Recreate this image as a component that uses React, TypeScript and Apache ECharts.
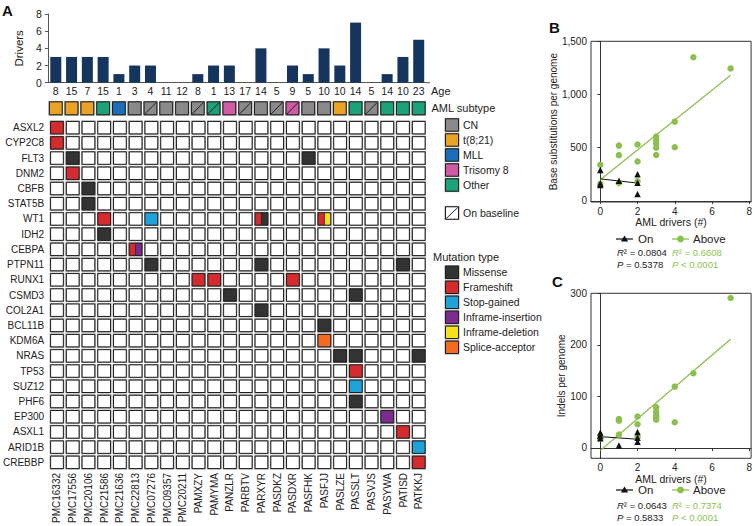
import React, { useEffect, useRef } from "react";
import * as echarts from "echarts";

const FONT = "'Liberation Sans', Arial, Helvetica, sans-serif";

// ---------- Panel A data ----------
const patients = ["PMC16332", "PMC17556", "PMC20106", "PMC21586", "PMC21636", "PMC22813", "PMC07276", "PMC09357", "PMC20211", "PAMXZY", "PAMYMA", "PANZLR", "PARBTV", "PARXYR", "PASDKZ", "PASDXR", "PASFHK", "PASFJJ", "PASLZE", "PASSLT", "PASVJS", "PASYWA", "PATISD", "PATKKJ"];
const ages = [8, 15, 7, 15, 1, 3, 4, 11, 12, 8, 1, 13, 17, 14, 5, 9, 5, 10, 10, 14, 5, 14, 10, 23];
const drivers = [3, 3, 3, 3, 1, 2, 2, 0, 0, 1, 2, 2, 0, 4, 0, 2, 1, 4, 2, 7, 0, 1, 3, 5];
const subtypes = ["t(8;21)", "t(8;21)", "t(8;21)", "Other", "MLL", "CN", "CN", "CN", "CN", "CN", "Other", "Trisomy 8", "CN", "CN", "CN", "Trisomy 8", "CN", "CN", "t(8;21)", "Other", "CN", "Other", "Other", "Other"];
const onBaseline = [0, 0, 0, 0, 0, 0, 1, 0, 0, 1, 1, 0, 1, 0, 1, 1, 0, 0, 0, 0, 1, 0, 0, 0];
const genes = ["ASXL2", "CYP2C8", "FLT3", "DNM2", "CBFB", "STAT5B", "WT1", "IDH2", "CEBPA", "PTPN11", "RUNX1", "CSMD3", "COL2A1", "BCL11B", "KDM6A", "NRAS", "TP53", "SUZ12", "PHF6", "EP300", "ASXL1", "ARID1B", "CREBBP"];
const subtypeNames = ["CN", "t(8;21)", "MLL", "Trisomy 8", "Other"];
const subtypeColors = ["#8a8a8a", "#e9a428", "#1c6fb7", "#cf5aa5", "#1ba27a"];
const mutationTypes = ["Missense", "Frameshift", "Stop-gained", "Inframe-insertion", "Inframe-deletion", "Splice-acceptor"];
const mutationColors = ["#333333", "#d52a2e", "#1fa2d9", "#7c2c8f", "#f3e11b", "#f36c21"];
// [patient, gene, mutation type(s)]
const mutations: [string, string, string[]][] = [
  ["PMC16332", "ASXL2", ["Frameshift"]],
  ["PMC16332", "CYP2C8", ["Frameshift"]],
  ["PMC17556", "FLT3", ["Missense"]],
  ["PASFHK", "FLT3", ["Missense"]],
  ["PMC17556", "DNM2", ["Frameshift"]],
  ["PMC20106", "CBFB", ["Missense"]],
  ["PMC20106", "STAT5B", ["Missense"]],
  ["PMC21586", "WT1", ["Frameshift"]],
  ["PMC07276", "WT1", ["Stop-gained"]],
  ["PARXYR", "WT1", ["Frameshift", "Missense"]],
  ["PASFJJ", "WT1", ["Frameshift", "Inframe-deletion"]],
  ["PMC21586", "IDH2", ["Missense"]],
  ["PMC22813", "CEBPA", ["Frameshift", "Inframe-insertion"]],
  ["PMC07276", "PTPN11", ["Missense"]],
  ["PARXYR", "PTPN11", ["Missense"]],
  ["PATISD", "PTPN11", ["Missense"]],
  ["PAMXZY", "RUNX1", ["Frameshift"]],
  ["PAMYMA", "RUNX1", ["Frameshift"]],
  ["PASDXR", "RUNX1", ["Frameshift"]],
  ["PANZLR", "CSMD3", ["Missense"]],
  ["PASSLT", "CSMD3", ["Missense"]],
  ["PARXYR", "COL2A1", ["Missense"]],
  ["PASFJJ", "BCL11B", ["Missense"]],
  ["PASFJJ", "KDM6A", ["Splice-acceptor"]],
  ["PASLZE", "NRAS", ["Missense"]],
  ["PASSLT", "NRAS", ["Missense"]],
  ["PATKKJ", "NRAS", ["Missense"]],
  ["PASSLT", "TP53", ["Frameshift"]],
  ["PASSLT", "SUZ12", ["Stop-gained"]],
  ["PASSLT", "PHF6", ["Missense"]],
  ["PASYWA", "EP300", ["Inframe-insertion"]],
  ["PATISD", "ASXL1", ["Frameshift"]],
  ["PATKKJ", "ARID1B", ["Stop-gained"]],
  ["PATKKJ", "CREBBP", ["Frameshift"]],
];

// ---------- Panel B / C data ----------
const driverTicks = [0, 2, 4, 6, 8];
const subsTicks = [0, 500, 1000, 1500];
const indelTicks = [0, 100, 200, 300];
const onB = [[0, 290], [0, 165], [0, 150], [1, 190], [2, 250], [2, 170], [2, 65]];
const aboveB = [[0, 340], [0, 160], [1, 520], [1, 430], [1, 170], [2, 530], [2, 370], [2, 185], [3, 605], [3, 570], [3, 540], [3, 500], [3, 432], [4, 745], [4, 505], [5, 1350], [7, 1245]];
const onFitB = [[0, 207], [2, 168]];
const aboveFitB = [[0, 198], [7, 1182]];
const onC = [[0, 30], [0, 24], [0, 19], [1, 5], [2, 31], [2, 20], [2, 12]];
const aboveC = [[0, 22], [0, 18], [1, 56], [1, 53], [1, 26], [2, 61], [2, 46], [2, 21], [3, 79], [3, 70], [3, 63], [3, 58], [3, 55], [4, 119], [4, 50], [5, 145], [7, 291]];
const onFitC = [[0, 22], [2, 17]];
const aboveFitC = [[0, -5], [7, 211]];
// [On, Above] : [R², P]
const statsB = [["0.0804", "= 0.5378"], ["0.6608", "< 0.0001"]];
const statsC = [["0.0643", "= 0.5833"], ["0.7374", "< 0.0001"]];

const GREEN = "#8dbf4e";
const NAVY = "#16355e";
const DARK = "#1f1f1f";

function drawCell(cx: number, cy: number, w: number, h: number, fills: string[], diagonal: boolean) {
  const x0 = cx - w / 2;
  const y0 = cy - h / 2;
  const children: any[] = [
    { type: "rect", shape: { x: x0 - 0.9, y: y0 - 0.9, width: w + 1.8, height: h + 1.8 }, style: { fill: "#8e8e8e" } },
  ];
  if (fills.length <= 1) {
    children.push({ type: "rect", shape: { x: x0, y: y0, width: w, height: h }, style: { fill: fills[0] || "#fff", stroke: DARK, lineWidth: 1 } });
  } else {
    children.push({ type: "rect", shape: { x: x0, y: y0, width: w / 2, height: h }, style: { fill: fills[0] } });
    children.push({ type: "rect", shape: { x: x0 + w / 2, y: y0, width: w / 2, height: h }, style: { fill: fills[1] } });
    children.push({ type: "line", shape: { x1: x0 + w / 2, y1: y0, x2: x0 + w / 2, y2: y0 + h }, style: { stroke: DARK, lineWidth: 0.8 } });
    children.push({ type: "rect", shape: { x: x0, y: y0, width: w, height: h }, style: { fill: "none", stroke: DARK, lineWidth: 1 } });
  }
  if (diagonal) {
    children.push({ type: "line", shape: { x1: x0 + 0.8, y1: y0 + h - 0.8, x2: x0 + w - 0.8, y2: y0 + 0.8 }, style: { stroke: DARK, lineWidth: 1 } });
  }
  return { type: "group", children };
}

function txt(t: string, x: number, y: number, opts: any = {}) {
  const align = opts.align || "left";
  return {
    type: "text",
    x,
    y,
    style: {
      text: t,
      fontFamily: FONT,
      fontSize: 10.5,
      fill: "#222",
      align,
      textAlign: align,
      verticalAlign: "middle",
      textVerticalAlign: "middle",
      ...opts,
    },
  };
}

function statText(label: string, value: string, x: number, y: number, color: string) {
  return {
    type: "text",
    x,
    y,
    style: {
      text: "{i|" + label + "}" + (label === "R" ? "² = " : " ") + value,
      fontFamily: FONT,
      fontSize: 9.5,
      fill: color,
      align: "left",
      textAlign: "left",
      verticalAlign: "middle",
      textVerticalAlign: "middle",
      rich: { i: { fontStyle: "italic", fontFamily: FONT, fontSize: 9.5, fill: color, color } },
    },
  };
}

function scatterLegend(y: number, statsY1: number, statsY2: number, stats: string[][]) {
  return [
    { type: "line", shape: { x1: 616, y1: y, x2: 633, y2: y }, style: { stroke: "#111", lineWidth: 1.2 } },
    { type: "polygon", shape: { points: [[624.5, y - 3.6], [620.8, y + 2.6], [628.2, y + 2.6]] }, style: { fill: "#111" } },
    txt("On", 638, y, { fontSize: 11.5 }),
    { type: "line", shape: { x1: 672, y1: y, x2: 689, y2: y }, style: { stroke: GREEN, lineWidth: 1.3 } },
    { type: "circle", shape: { cx: 680.5, cy: y, r: 3.4 }, style: { fill: GREEN } },
    txt("Above", 693, y, { fontSize: 11.5 }),
    statText("R", stats[0][0], 617, statsY1, "#222"),
    statText("P", stats[0][1], 617, statsY2, "#222"),
    statText("R", stats[1][0], 672, statsY1, GREEN),
    statText("P", stats[1][1], 672, statsY2, GREEN),
  ];
}

function buildOption() {
  const cellData: number[][] = [];
  genes.forEach((g, gi) => {
    patients.forEach((p, pi) => {
      const m = mutations.find((mm) => mm[0] === p && mm[1] === g);
      const types = m ? m[2].map((t) => mutationTypes.indexOf(t)) : [];
      cellData.push([pi, gi, types.length > 0 ? types[0] : -1, types.length > 1 ? types[1] : -1]);
    });
  });
  const subtypeData = patients.map((p, i) => [i, 0, subtypeNames.indexOf(subtypes[i]), onBaseline[i]]);

  const gridLeft = 47.9;
  const gridWidth = 378.7;

  const graphics: any[] = [];
  graphics.push(txt("A", 2, 10, { fontSize: 15, fontWeight: "bold", fill: "#111" }));
  graphics.push(txt("B", 549, 27.5, { fontSize: 15, fontWeight: "bold", fill: "#111" }));
  graphics.push(txt("C", 552, 281, { fontSize: 15, fontWeight: "bold", fill: "#111" }));
  graphics.push({ type: "line", shape: { x1: 426, y1: 82.7, x2: 430, y2: 82.7 }, style: { stroke: "#555", lineWidth: 1 } });
  graphics.push(txt("Age", 431, 90.5, { fontSize: 11 }));
  graphics.push(txt("AML subtype", 431.5, 108.3, { fontSize: 11 }));
  subtypeNames.forEach((n, i) => {
    const cy = 125 + 15 * i;
    graphics.push(drawCell(452, cy, 13, 12.4, [subtypeColors[i]], false));
    graphics.push(txt(n, 463, cy, { fontSize: 10.5 }));
  });
  graphics.push(drawCell(452, 213, 13, 12.4, ["#fff"], true));
  graphics.push(txt("On baseline", 463, 213, { fontSize: 10.5 }));
  graphics.push(txt("Mutation type", 433, 257, { fontSize: 11 }));
  mutationTypes.forEach((n, i) => {
    const cy = 272.3 + 15 * i;
    graphics.push(drawCell(452, cy, 13, 12.4, [mutationColors[i]], false));
    graphics.push(txt(n, 463, cy, { fontSize: 10.5 }));
  });
  graphics.push(...scatterLegend(239, 252, 264.3, statsB));
  graphics.push(...scatterLegend(490, 505, 517.7, statsC));

  const axisFont = { fontFamily: FONT, fontSize: 10, color: "#222" };

  const valueXAxis = (gridIndex: number, nameGap: number) => ({
    type: "value",
    gridIndex,
    min: -0.5,
    max: 8.1,
    name: "AML drivers (#)",
    nameLocation: "middle",
    nameGap,
    nameTextStyle: { fontFamily: FONT, fontSize: 10.5, color: "#222" },
    axisLine: { show: true, lineStyle: { color: "#333", width: 1 } },
    axisTick: { show: true, length: 3, customValues: driverTicks, lineStyle: { color: "#333" } },
    axisLabel: { ...axisFont, margin: 4, customValues: driverTicks },
    splitLine: { show: false },
  });

  return {
    animation: false,
    backgroundColor: "#fff",
    textStyle: { fontFamily: FONT },
    grid: [
      { left: gridLeft, top: 14, width: gridWidth, height: 68.7 },
      { left: gridLeft, top: 100.65, width: gridWidth, height: 15.31 },
      { left: gridLeft, top: 120.05, width: gridWidth, height: 352.1 },
      { left: 591, top: 41.3, width: 161, height: 160.7, show: true, borderColor: "#333", borderWidth: 1 },
      { left: 591, top: 293.3, width: 161, height: 165, show: true, borderColor: "#333", borderWidth: 1 },
    ],
    xAxis: [
      {
        type: "category",
        gridIndex: 0,
        data: patients,
        axisLine: { show: true, lineStyle: { color: "#555", width: 1 } },
        axisTick: { show: false },
        axisLabel: { ...axisFont, fontSize: 10.5, interval: 0, margin: 3, formatter: (_v: string, i: number) => String(ages[i]) },
      },
      { type: "category", gridIndex: 1, data: patients, show: false },
      {
        type: "category",
        gridIndex: 2,
        data: patients,
        position: "bottom",
        axisLine: { show: false },
        axisTick: { show: false },
        axisLabel: { ...axisFont, interval: 0, rotate: 90, margin: 3 },
      },
      valueXAxis(3, 14),
      valueXAxis(4, 10),
    ],
    yAxis: [
      {
        type: "value",
        gridIndex: 0,
        min: 0,
        max: 8,
        interval: 2,
        name: "Drivers",
        nameLocation: "middle",
        nameGap: 18,
        nameTextStyle: { fontFamily: FONT, fontSize: 11.5, color: "#222" },
        axisLine: { show: true, lineStyle: { color: "#555", width: 1 } },
        axisTick: { show: true, length: 3, lineStyle: { color: "#555" } },
        axisLabel: { ...axisFont, fontSize: 10.5, margin: 6 },
        splitLine: { show: false },
      },
      { type: "category", gridIndex: 1, data: [""], show: false },
      {
        type: "category",
        gridIndex: 2,
        data: genes,
        inverse: true,
        axisLine: { show: false },
        axisTick: { show: false },
        axisLabel: { ...axisFont, interval: 0, margin: 5 },
      },
      {
        type: "value",
        gridIndex: 3,
        min: -10,
        max: 1500,
        name: "Base substitutions per genome",
        nameLocation: "middle",
        nameGap: 33,
        nameTextStyle: { fontFamily: FONT, fontSize: 10, color: "#222" },
        axisLine: { show: true, lineStyle: { color: "#333", width: 1 } },
        axisTick: { show: true, length: 3, customValues: subsTicks, lineStyle: { color: "#333" } },
        axisLabel: { ...axisFont, margin: 4, customValues: subsTicks, formatter: (v: number) => v.toLocaleString("en-US") },
        splitLine: { show: false },
      },
      {
        type: "value",
        gridIndex: 4,
        min: -20,
        max: 300,
        name: "Indels per genome",
        nameLocation: "middle",
        nameGap: 25,
        nameTextStyle: { fontFamily: FONT, fontSize: 10, color: "#222" },
        axisLine: { show: true, lineStyle: { color: "#333", width: 1 } },
        axisTick: { show: true, length: 3, customValues: indelTicks, lineStyle: { color: "#333" } },
        axisLabel: { ...axisFont, margin: 4, customValues: indelTicks },
        splitLine: { show: false },
      },
    ],
    series: [
      { type: "bar", xAxisIndex: 0, yAxisIndex: 0, data: drivers, barWidth: 11, itemStyle: { color: NAVY } },
      {
        type: "custom",
        xAxisIndex: 1,
        yAxisIndex: 1,
        data: subtypeData,
        renderItem: (_p: any, api: any) => {
          const [cx, cy] = api.coord([api.value(0), api.value(1)]);
          const [bw, bh] = api.size([1, 1]);
          return drawCell(cx, cy, bw - 3, bh - 2.4, [subtypeColors[api.value(2)]], api.value(3) === 1);
        },
      },
      {
        type: "custom",
        xAxisIndex: 2,
        yAxisIndex: 2,
        data: cellData,
        renderItem: (_p: any, api: any) => {
          const [cx, cy] = api.coord([api.value(0), api.value(1)]);
          const [bw, bh] = api.size([1, 1]);
          const t1 = api.value(2);
          const t2 = api.value(3);
          const fills: string[] = [];
          if (t1 >= 0) fills.push(mutationColors[t1]);
          if (t2 >= 0) fills.push(mutationColors[t2]);
          return drawCell(cx, cy, bw - 3, bh - 2.8, fills, false);
        },
      },
      { type: "line", xAxisIndex: 3, yAxisIndex: 3, data: aboveFitB, symbol: "none", lineStyle: { color: GREEN, width: 1.3 }, z: 2 },
      { type: "line", xAxisIndex: 3, yAxisIndex: 3, data: onFitB, symbol: "none", lineStyle: { color: "#111", width: 1 }, z: 2 },
      { type: "scatter", xAxisIndex: 3, yAxisIndex: 3, data: aboveB, symbol: "circle", symbolSize: 6.5, itemStyle: { color: GREEN, opacity: 1 }, z: 3 },
      { type: "scatter", xAxisIndex: 3, yAxisIndex: 3, data: onB, symbol: "triangle", symbolSize: 6.5, itemStyle: { color: "#111", opacity: 1 }, z: 4 },
      { type: "line", xAxisIndex: 4, yAxisIndex: 4, data: aboveFitC, symbol: "none", lineStyle: { color: GREEN, width: 1.3 }, z: 2 },
      { type: "line", xAxisIndex: 4, yAxisIndex: 4, data: onFitC, symbol: "none", lineStyle: { color: "#111", width: 1 }, z: 2 },
      { type: "scatter", xAxisIndex: 4, yAxisIndex: 4, data: aboveC, symbol: "circle", symbolSize: 6.5, itemStyle: { color: GREEN, opacity: 1 }, z: 3 },
      { type: "scatter", xAxisIndex: 4, yAxisIndex: 4, data: onC, symbol: "triangle", symbolSize: 6.5, itemStyle: { color: "#111", opacity: 1 }, z: 4 },
    ],
    graphic: graphics,
  };
}

export default function App() {
  const ref = useRef<HTMLDivElement>(null);
  useEffect(() => {
    document.body.style.margin = "0";
    const chart = echarts.init(ref.current as HTMLDivElement, null, { renderer: "svg" });
    chart.setOption(buildOption() as any);
    return () => chart.dispose();
  }, []);
  return <div ref={ref} style={{ width: 755, height: 526, position: "absolute", left: 0, top: 0, background: "#fff" }} />;
}
